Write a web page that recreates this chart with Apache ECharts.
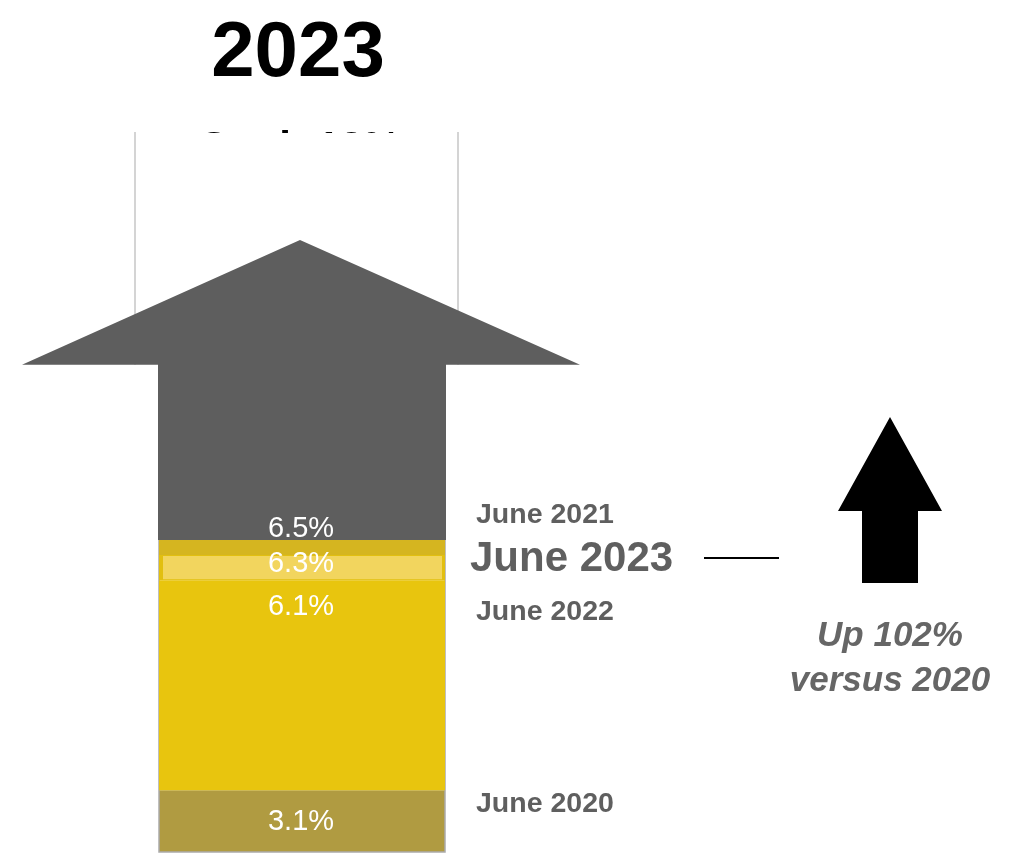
<!DOCTYPE html>
<html>
<head>
<meta charset="utf-8">
<script src="https://cdn.jsdelivr.net/npm/echarts@6/dist/echarts.min.js"></script>
<style>
  html, body { margin: 0; padding: 0; background: #fff; }
  #chart { width: 1013px; height: 857px; }
</style>
</head>
<body>
<div id="chart"></div>
<script>
// Datos
const year = '2023';
const periods = ['June 2020', 'June 2022', 'June 2023', 'June 2021'];
const rates = [3.1, 6.1, 6.3, 6.5];
const goalRate = 12;
const highlight = 'June 2023';
const changeNote = ['Up 102%', 'versus 2020'];

// Escala del dibujo (no lineal): 0 = base de la flecha, 120 = tope de la meta
const bandLevels = [[0, 10.3], [10.3, 45.3], [45.3, 49.5], [49.5, 52]];
const stemTop = 81.2;
const tipLevel = 102;
const goalLevel = 120;
const rateLabelLevels = [5.0, 40.9, 48.0, 53.9];
const periodLabelLevels = [7.9, 40.0, 48.7, 56.2];

const FONT = '"Liberation Sans", Arial, Helvetica, sans-serif';
const bandColors = ['#B09B41', '#E8C50E', '#E2BF10', '#D5B520'];

const chart = echarts.init(document.getElementById('chart'));

// Flecha gris con la meta
const renderGoal = (params, api) => {
  const cx = api.coord([0, 0])[0] + 1;
  const w = api.size([1, 0])[0];
  const y = (v) => api.coord([0, v])[1];
  const stemHalf = 143;
  const yGoal = y(goalLevel);
  return {
    type: 'group',
    children: [
      {
        type: 'text',
        style: {
          text: 'Goal: ' + goalRate + '%',
          x: cx - 3, y: yGoal - 4,
          align: 'center', verticalAlign: 'top',
          font: '700 42px ' + FONT, fill: '#000'
        }
      },
      { type: 'rect', shape: { x: cx - 166, y: yGoal + 1, width: 322, height: 110 }, style: { fill: '#fff' } },
      { type: 'line', shape: { x1: cx - 167, y1: yGoal, x2: cx - 167, y2: y(stemTop) }, style: { stroke: '#C6C6C6', lineWidth: 1.5 } },
      { type: 'line', shape: { x1: cx + 156, y1: yGoal, x2: cx + 156, y2: y(stemTop) }, style: { stroke: '#C6C6C6', lineWidth: 1.5 } },
      {
        type: 'polygon',
        shape: {
          points: [
            [cx - 2, y(tipLevel)],
            [cx - 1 + w / 2, y(stemTop)],
            [cx + stemHalf + 1, y(stemTop)],
            [cx + stemHalf + 1, y(bandLevels[3][1])],
            [cx - stemHalf - 1, y(bandLevels[3][1])],
            [cx - stemHalf - 1, y(stemTop)],
            [cx - 1 - w / 2, y(stemTop)]
          ]
        },
        style: { fill: '#5E5E5E' }
      }
    ]
  };
};

// Franjas de cada periodo
const renderBand = (params, api) => {
  const i = params.dataIndex;
  const cx = api.coord([0, 0])[0] + 1;
  const y = (v) => api.coord([0, v])[1];
  const lo = y(api.value(1));
  const hi = y(api.value(2));
  const half = 143;
  const big = periods[i] === highlight;
  const children = [
    { type: 'rect', shape: { x: cx - half, y: hi, width: half * 2, height: lo - hi }, style: { fill: bandColors[i] } }
  ];
  if (big) {
    children.push({
      type: 'rect',
      shape: { x: cx - half + 4, y: hi + 1, width: half * 2 - 7, height: lo - hi - 2 },
      style: { fill: '#F2D55E' }
    });
  }
  if (i === 0) {
    // borde del tallo
    children.push({
      type: 'polyline',
      shape: { points: [[cx - half, y(bandLevels[3][1])], [cx - half, lo], [cx + half, lo], [cx + half, y(bandLevels[3][1])]] },
      style: { stroke: '#ABABAB', lineWidth: 1.5, fill: null }
    });
  }
  children.push({
    type: 'text',
    z2: 20,
    style: {
      text: api.value(3) + '%',
      x: cx - 1, y: y(rateLabelLevels[i]),
      align: 'center', verticalAlign: 'middle',
      font: '400 29px ' + FONT, fill: '#fff'
    }
  });
  children.push({
    type: 'text',
    z2: 20,
    style: {
      text: periods[i],
      x: cx + (big ? 168 : 174), y: y(periodLabelLevels[i]),
      align: 'left', verticalAlign: 'middle',
      font: '700 ' + (big ? 42 : 28.5) + 'px ' + FONT, fill: '#5F5F5F'
    }
  });
  if (big) {
    const yl = y(bandLevels[2][1] - 0.5);
    children.push({
      type: 'line',
      shape: { x1: cx + 402, y1: yl, x2: cx + 477, y2: yl },
      style: { stroke: '#000', lineWidth: 2 }
    });
  }
  return { type: 'group', children };
};

const option = {
  animation: false,
  backgroundColor: '#fff',
  grid: { left: 22, right: 433, top: 132, bottom: 5 },
  xAxis: { type: 'category', data: [year], show: false },
  yAxis: { type: 'value', min: 0, max: goalLevel, show: false },
  graphic: [
    {
      type: 'text', z: 10,
      style: { text: year, x: 298, y: 54, align: 'center', verticalAlign: 'middle', font: '700 78px ' + FONT, fill: '#000' }
    },
    {
      type: 'polygon', z: 10,
      shape: { points: [[890, 417], [942, 511], [918, 511], [918, 583], [862, 583], [862, 511], [838, 511]] },
      style: { fill: '#000' }
    },
    {
      type: 'text', z: 10,
      style: { text: changeNote[0], x: 890, y: 636, align: 'center', verticalAlign: 'middle', font: 'italic 700 35px ' + FONT, fill: '#666' }
    },
    {
      type: 'text', z: 10,
      style: { text: changeNote[1], x: 890, y: 681, align: 'center', verticalAlign: 'middle', font: 'italic 700 35px ' + FONT, fill: '#666' }
    }
  ],
  series: [
    {
      type: 'custom',
      z: 1,
      renderItem: renderGoal,
      data: [[0, goalRate]]
    },
    {
      type: 'custom',
      z: 2,
      renderItem: renderBand,
      data: periods.map((p, i) => [0, bandLevels[i][0], bandLevels[i][1], rates[i]])
    }
  ]
};

chart.setOption(option);
</script>
</body>
</html>
